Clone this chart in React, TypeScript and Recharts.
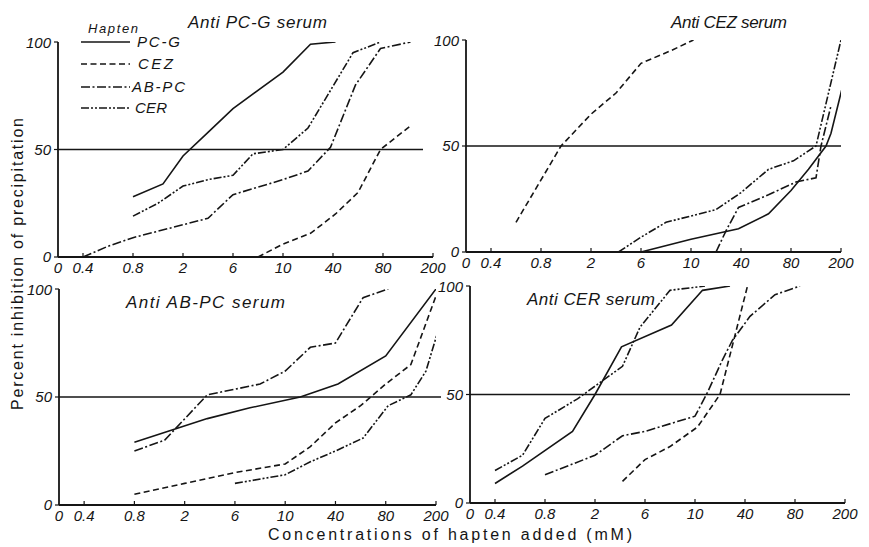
import React from "react";
import { LineChart, Line, XAxis, YAxis, ReferenceLine } from "recharts";

// Axis positions (equal spacing per labelled concentration) and their labels
const tickPositions = [0, 0.5, 1.5, 2.5, 3.5, 4.5, 5.5, 6.5, 7.5];
const tickLabels = ["0", "0.4", "0.8", "2", "6", "10", "40", "80", "200"];
const yTicks = [0, 50, 100];
const haptens = ["PC-G", "CEZ", "AB-PC", "CER"];

// [axis position, percent inhibition]
// Anti PC-G serum
const antiPCG_PCG = [[1.5, 28], [2.1, 34], [2.5, 47], [3.0, 58], [3.5, 69], [4.5, 86], [5.05, 99], [5.55, 100]];
const antiPCG_CEZ = [[4.0, 0], [4.5, 6], [5.05, 11], [5.55, 20], [6.0, 30], [6.45, 50], [7.05, 61]];
const antiPCG_ABPC = [[0.5, 0], [1.0, 5], [1.5, 9], [2.0, 12], [2.5, 15], [3.0, 18], [3.5, 29], [4.5, 36], [5.0, 40], [5.45, 51], [5.95, 80], [6.45, 97], [7.05, 100]];
const antiPCG_CER = [[1.5, 19], [2.0, 25], [2.5, 33], [3.0, 36], [3.5, 38], [3.9, 48], [4.5, 50], [5.0, 60], [5.9, 95], [6.45, 100]];

// Anti CEZ serum
const antiCEZ_PCG = [[3.5, 0], [4.5, 6], [5.45, 11], [6.05, 18], [6.5, 29], [6.85, 39], [7.2, 50], [7.3, 56], [7.52, 77]];
const antiCEZ_CEZ = [[1.0, 14], [1.9, 50], [2.5, 65], [3.0, 75], [3.5, 89], [4.1, 95], [4.55, 100]];
const antiCEZ_ABPC = [[5.0, 0], [5.2, 10], [5.45, 21], [6.05, 27], [6.6, 33], [7.0, 35], [7.1, 50], [7.3, 69]];
const antiCEZ_CER = [[3.05, 0], [3.5, 7], [4.0, 14], [5.0, 20], [5.5, 28], [6.05, 39], [6.55, 43], [7.0, 50], [7.5, 100]];

// Anti AB-PC serum
const antiABPC_PCG = [[1.5, 29], [2.95, 40], [3.8, 45], [4.8, 50], [5.55, 56], [6.5, 69], [7.5, 100]];
const antiABPC_CEZ = [[1.5, 5], [2.5, 10], [3.5, 15], [4.5, 19], [5.0, 27], [5.5, 38], [6.0, 46], [6.5, 56], [7.0, 65], [7.55, 100]];
const antiABPC_ABPC = [[1.5, 25], [2.1, 30], [2.95, 51], [4.0, 56], [4.5, 62], [5.0, 73], [5.5, 75], [6.05, 96], [6.55, 100]];
const antiABPC_CER = [[3.5, 10], [4.5, 14], [5.0, 20], [5.5, 25], [6.05, 31], [6.55, 46], [7.0, 51], [7.3, 62], [7.52, 79]];

// Anti CER serum
const antiCER_PCG = [[0.5, 9], [1.05, 17], [2.05, 33], [2.5, 50], [3.03, 72], [4.03, 82], [4.65, 98], [5.2, 100]];
const antiCER_CEZ = [[3.05, 10], [3.5, 20], [4.0, 26], [4.55, 35], [5.0, 50], [5.55, 100]];
const antiCER_ABPC = [[1.5, 13], [2.5, 22], [3.05, 31], [3.5, 33], [4.5, 40], [4.75, 51], [5.05, 66], [5.25, 75], [5.6, 86], [6.1, 96], [6.6, 100]];
const antiCER_CER = [[0.5, 15], [1.05, 22], [1.5, 39], [2.15, 48], [3.05, 63], [3.4, 81], [4.0, 98], [4.7, 100]];

const INK = "#151515";
const FONT = "'Liberation Sans', Arial, sans-serif";
const dashes = ["", "6 3.5", "9 2.5 2 2.5", "8 2 2 2 2 2"];

const toPts = (arr: number[][]) => arr.map(([x, y]) => ({ x, y }));

const panels = [
  { plotLeft: 58, plotTop: 42, plotW: 375, plotH: 215, refEnd: 7.3, series: [antiPCG_PCG, antiPCG_CEZ, antiPCG_ABPC, antiPCG_CER] },
  { plotLeft: 466, plotTop: 40, plotW: 375, plotH: 212, refEnd: 7.5, series: [antiCEZ_PCG, antiCEZ_CEZ, antiCEZ_ABPC, antiCEZ_CER] },
  { plotLeft: 59, plotTop: 289, plotW: 377, plotH: 216, refEnd: 7.6, series: [antiABPC_PCG, antiABPC_CEZ, antiABPC_ABPC, antiABPC_CER] },
  { plotLeft: 470, plotTop: 286, plotW: 375, plotH: 217, refEnd: 7.6, series: [antiCER_PCG, antiCER_CEZ, antiCER_ABPC, antiCER_CER] },
];

const ML = 40, MT = 8, MR = 14, XH = 28;

const XTick = (props: any) => {
  const { x, y, payload } = props;
  const i = tickPositions.indexOf(payload.value);
  return (
    <g>
      {payload.value !== 0 && (
        <line x1={x} x2={x} y1={y} y2={y - 4} stroke={INK} strokeWidth={1.2} />
      )}
      <text x={x} y={y + 16} textAnchor="middle" fontSize={15} fontStyle="italic" fontFamily={FONT} fill={INK}>
        {tickLabels[i]}
      </text>
    </g>
  );
};

const Panel = ({ p }: { p: any }) => {
  const W = ML + p.plotW + MR;
  const H = MT + p.plotH + XH;
  return (
    <div style={{ position: "absolute", left: p.plotLeft - ML, top: p.plotTop - MT }}>
      <LineChart width={W} height={H} margin={{ top: MT, right: MR, bottom: 0, left: 0 }}>
        <XAxis
          type="number"
          dataKey="x"
          domain={[0, 7.5]}
          ticks={tickPositions}
          interval={0}
          allowDataOverflow
          tick={<XTick />}
          tickLine={false}
          tickSize={0}
          tickMargin={0}
          height={XH}
          axisLine={{ stroke: INK, strokeWidth: 1.8 }}
        />
        <YAxis
          type="number"
          domain={[0, 100]}
          ticks={yTicks}
          allowDataOverflow
          width={ML}
          axisLine={{ stroke: INK, strokeWidth: 1.8 }}
          tickLine={{ stroke: INK, strokeWidth: 1.2 }}
          tickSize={4}
          tickMargin={3}
          tick={{ fontSize: 15, fontStyle: "italic", fill: INK, fontFamily: FONT }}
        />
        <ReferenceLine
          segment={[{ x: 0, y: 50 }, { x: p.refEnd, y: 50 }]}
          stroke={INK}
          strokeWidth={1.6}
          ifOverflow="visible"
        />
        {p.series.map((s: number[][], i: number) => (
          <Line
            key={haptens[i]}
            name={haptens[i]}
            data={toPts(s)}
            dataKey="y"
            type="linear"
            stroke={INK}
            strokeWidth={1.6}
            strokeDasharray={dashes[i] || undefined}
            dot={false}
            activeDot={false}
            isAnimationActive={false}
          />
        ))}
      </LineChart>
    </div>
  );
};

const legendRows = [42, 64, 87, 108];
const legendLabelX = [137, 138, 132, 135];
const legendLabelW = [43, 35, 53, 32];

export default function App() {
  return (
    <div style={{ position: "absolute", left: 0, top: 0, width: 869, height: 547, background: "#fff", overflow: "hidden" }}>
      {panels.map((p, i) => (
        <Panel key={i} p={p} />
      ))}
      <svg width={869} height={547} style={{ position: "absolute", left: 0, top: 0, pointerEvents: "none" }}>
        <g fontFamily={FONT} fill={INK} fontStyle="italic">
          <text x={188} y={28} fontSize={17} textLength={139} lengthAdjust="spacing">Anti PC-G serum</text>
          <text x={671} y={28} fontSize={17} textLength={116} lengthAdjust="spacing">Anti CEZ serum</text>
          <text x={126} y={308} fontSize={17} textLength={159} lengthAdjust="spacing">Anti AB-PC serum</text>
          <text x={527} y={305} fontSize={17} textLength={128} lengthAdjust="spacing">Anti CER serum</text>
          <text x={88} y={33} fontSize={13} textLength={50} lengthAdjust="spacing">Hapten</text>
          {haptens.map((h, i) => (
            <g key={h}>
              <line
                x1={81}
                x2={130}
                y1={legendRows[i]}
                y2={legendRows[i]}
                stroke={INK}
                strokeWidth={1.6}
                strokeDasharray={dashes[i] || undefined}
              />
              <text x={legendLabelX[i]} y={legendRows[i] + 5} fontSize={15} textLength={legendLabelW[i]} lengthAdjust="spacing">{h}</text>
            </g>
          ))}
          <text x={268} y={540} fontSize={16} fontStyle="normal" textLength={364} lengthAdjust="spacing">
            Concentrations of hapten added (mM)
          </text>
          <text
            x={0}
            y={0}
            fontSize={16}
            fontStyle="normal"
            textAnchor="middle"
            textLength={292}
            lengthAdjust="spacing"
            transform="translate(23 264) rotate(-90)"
          >
            Percent inhibition of precipitation
          </text>
        </g>
      </svg>
    </div>
  );
}
